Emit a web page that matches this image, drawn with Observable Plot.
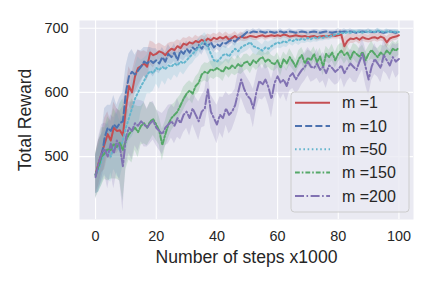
<!DOCTYPE html>
<html><head><meta charset="utf-8">
<script src="https://cdn.jsdelivr.net/npm/d3@7"></script>
<script src="https://cdn.jsdelivr.net/npm/@observablehq/plot@0.6"></script>
<style>
body{margin:0;background:#fff}
#chart{position:relative;width:432px;height:286px}
</style>
</head><body><div id="chart"></div>
<script>
const steps = d3.range(0, 101);
const seriesNames = ["m =1", "m =10", "m =50", "m =150", "m =200"];
const colors = ["#C44E52", "#4C72B0", "#64B5CD", "#55A868", "#8172B2"];
const dashes = ["none", "7,3.2", "1.6,2.6", "4.8,2,1.6,2", "9,2.5,1.6,2.5"];
const xTicks = [0, 20, 40, 60, 80, 100];
const yTicks = [500, 600, 700];
const xLabel = "Number of steps x1000";
const yLabel = "Total Reward";

const meanM1 = [472,490,505,520,535,525,545,540,541,533,
575,610,600,625,638,641,645,640,662,658,
660,664,662,658,664,668,666,672,669,676,
674,678,676,680,678,682,679,684,681,685,
683,686,684,687,682,685,688,684,687,685,
686,688,687,686,688,689,687,688,689,688,
689,688,690,689,687,688,689,688,687,688,
686,687,688,686,687,688,687,688,689,688,
689,690,672,680,684,683,685,682,686,684,
683,685,686,684,687,685,678,684,686,687,
689];
const meanM10 = [472,485,500,530,545,540,550,545,552,555,
600,625,632,628,634,640,648,645,650,646,
650,645,655,648,660,655,662,650,665,660,
668,662,670,666,674,668,676,672,678,670,
675,672,678,676,680,682,679,684,686,690,
694,693,695,694,695,694,693,695,694,693,
694,695,693,694,695,694,693,694,695,694,
693,694,695,694,693,694,695,694,693,694,
695,694,695,694,695,694,693,694,695,694,
695,694,694,695,694,693,694,695,694,693,
694];
const meanM50 = [472,480,495,505,510,500,515,520,510,525,
545,560,575,590,600,610,618,628,633,630,
638,635,640,636,642,640,645,642,648,645,
650,655,660,665,670,676,680,672,660,650,
648,652,658,660,656,663,668,664,670,673,
675,678,672,670,668,665,670,668,672,675,
678,676,680,678,682,680,683,681,684,682,
685,683,686,684,686,685,688,686,689,690,
691,693,692,694,693,695,694,695,693,695,
694,695,694,696,695,694,695,694,695,694,
694];
const meanM150 = [470,485,500,505,512,510,520,515,522,510,
525,535,540,545,538,548,552,545,555,558,
550,540,518,535,550,560,565,570,580,590,
598,603,598,610,615,628,632,630,636,634,
638,635,632,640,636,642,638,644,640,646,
648,642,650,646,652,655,648,652,646,644,
650,638,652,645,655,648,640,652,658,645,
654,650,660,647,656,640,660,655,662,650,
660,665,658,662,652,664,660,656,663,650,
660,666,660,655,662,658,665,660,668,665,
670];
const meanM200 = [468,490,505,512,500,520,505,525,515,485,
530,545,540,552,548,555,550,545,552,556,
545,540,535,545,550,555,548,560,552,565,
570,560,575,565,555,570,575,605,570,560,
550,565,560,575,565,570,580,600,620,605,
595,590,575,600,618,612,620,608,590,615,
625,615,620,610,625,630,620,628,635,640,
648,640,638,645,635,640,630,642,638,632,
636,642,630,638,645,640,635,648,660,640,
620,640,652,645,638,658,650,642,655,648,
652];

const bandM1 = [30,35,30,40,35,30,40,35,30,45,
35,30,30,25,28,22,20,22,18,20,
14,13,12,13,12,10,12,10,11,9,
10,9,8,9,8,7,8,7,8,7,
7,8,6,7,8,6,7,6,7,6,
6,5,6,5,6,5,6,5,5,6,
5,6,5,5,6,5,5,6,5,5,
6,5,5,6,5,6,5,5,6,5,
6,8,14,10,8,7,6,7,6,6,
6,7,6,6,7,6,9,7,6,6,
6];
const bandM10 = [30,40,35,45,35,40,45,35,40,45,
40,35,35,30,32,25,22,25,20,22,
18,16,15,14,15,12,14,12,13,11,
12,11,10,11,9,10,9,8,9,8,
8,9,7,8,7,6,7,5,5,4,
4,3,4,3,4,3,4,3,3,4,
3,4,3,3,4,3,3,4,3,3,
4,3,3,4,3,4,3,3,4,3,
4,3,4,3,4,3,3,4,3,3,
4,3,3,4,3,3,4,3,3,4,
3];
const bandM50 = [30,35,40,35,45,40,35,50,45,40,
40,35,45,50,55,40,35,30,35,28,
25,30,22,25,20,22,18,20,16,18,
16,14,15,13,14,12,13,15,16,14,
13,12,14,11,12,10,11,12,10,11,
10,9,11,12,10,9,11,10,9,8,
9,8,9,8,7,8,7,8,7,6,
7,6,7,6,6,5,6,5,5,5,
4,4,5,4,4,3,4,3,4,3,
4,3,3,4,3,3,4,3,3,4,
3];
const bandM150 = [35,40,45,40,50,45,55,50,60,80,
45,40,50,35,40,30,32,28,30,25,
25,22,25,20,22,20,18,20,16,18,
16,15,16,14,15,13,14,15,13,14,
14,13,15,12,14,13,12,14,12,13,
12,13,11,12,13,11,12,13,12,11,
12,13,11,12,13,12,11,13,12,14,
12,13,11,12,13,14,12,11,13,12,
13,12,14,11,13,12,14,12,11,13,
12,14,11,13,12,14,11,13,12,11,
12];
const bandM200 = [35,40,45,40,50,45,55,50,55,70,
45,40,45,35,40,32,35,30,32,30,
28,30,32,28,30,26,28,30,26,28,
26,28,25,27,30,25,28,30,26,28,
30,28,32,26,30,28,25,30,28,26,
28,25,30,26,28,24,26,28,30,25,
24,26,22,25,23,24,22,25,23,22,
22,24,20,23,21,22,24,20,22,21,
22,20,23,21,22,24,20,22,25,28,
26,22,24,21,23,25,22,24,21,26,
24];

const means = [meanM1, meanM10, meanM50, meanM150, meanM200];
const bands = [bandM1, bandM10, bandM50, bandM150, bandM200];

const rows = [];
seriesNames.forEach((s, i) => steps.forEach((x, j) => {
  rows.push({series: s, x, y: means[i][j], lo: means[i][j] - bands[i][j], hi: means[i][j] + bands[i][j]});
}));

const font = "'Liberation Sans', Arial, sans-serif";

const plot = Plot.plot({
  width: 432, height: 286,
  marginLeft: 79, marginRight: 19, marginTop: 20, marginBottom: 67,
  x: {domain: [-5.3, 104.8]},
  y: {domain: [402, 712]},
  color: {domain: seriesNames, range: colors},
  style: {background: "#fff", fontFamily: font, fontSize: "14.4px", color: "#262626"},
  marks: [
    Plot.frame({fill: "#EAEAF2", stroke: "none"}),
    Plot.gridX(xTicks, {stroke: "#fff", strokeOpacity: 1, strokeWidth: 1.1}),
    Plot.gridY(yTicks, {stroke: "#fff", strokeOpacity: 1, strokeWidth: 1.1}),
    ...seriesNames.map(s => Plot.areaY(rows.filter(d => d.series === s), {x: "x", y1: "lo", y2: "hi", fill: "series", fillOpacity: 0.2})),
    ...seriesNames.map((s, i) => Plot.lineY(rows.filter(d => d.series === s), {x: "x", y: "y", stroke: "series", strokeWidth: 2, strokeDasharray: dashes[i]})),
    Plot.axisX(xTicks, {tickSize: 0, tickPadding: 11, label: null, fontSize: 14.4}),
    Plot.axisY(yTicks, {tickSize: 0, tickPadding: 11, label: null, fontSize: 14.4}),
    Plot.text([xLabel], {frameAnchor: "bottom", dy: 38, fontSize: 17.6, lineAnchor: "middle", fill: "#262626"}),
    Plot.text([yLabel], {frameAnchor: "left", dx: -54, rotate: -90, textAnchor: "middle", lineAnchor: "middle", fontSize: 17.6, fill: "#262626"})
  ]
});
document.getElementById("chart").appendChild(plot);

// legend
const svg = d3.select(plot);
const lg = svg.append("g").attr("font-family", font).attr("font-size", 16).attr("text-anchor", "start");
lg.append("rect").attr("x", 291).attr("y", 92).attr("width", 118).attr("height", 120)
  .attr("rx", 3.5).attr("fill", "#EAEAF2").attr("fill-opacity", 0.8).attr("stroke", "#CCCCCC").attr("stroke-width", 1);
seriesNames.forEach((s, i) => {
  const yy = 102.7 + i * 23.3;
  lg.append("line").attr("x1", 295).attr("x2", 330).attr("y1", yy).attr("y2", yy)
    .attr("stroke", colors[i]).attr("stroke-width", 2).attr("stroke-dasharray", dashes[i]);
  lg.append("text").attr("x", 342).attr("y", yy).attr("dy", "0.35em").attr("text-anchor", "start").attr("fill", "#262626").text(s);
});
</script>
</body></html>
